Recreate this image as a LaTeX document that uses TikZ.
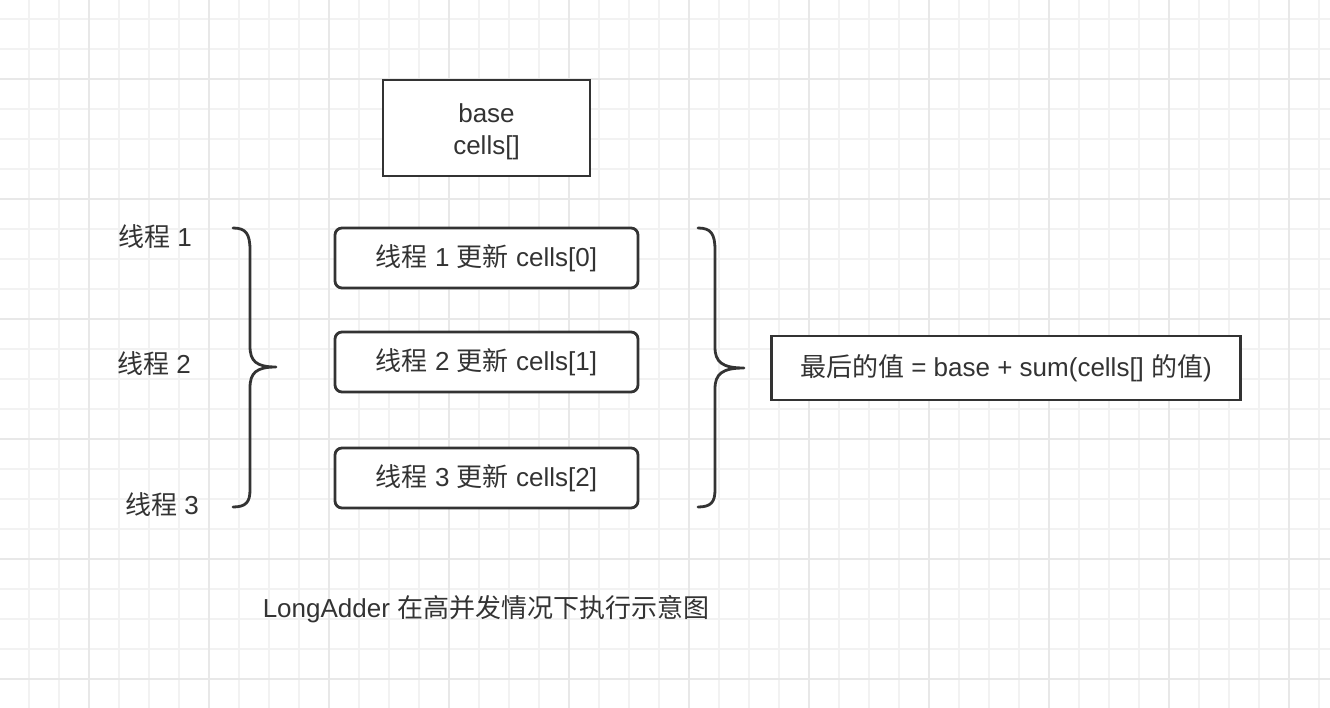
\documentclass[tikz,border=0pt]{standalone}
\usepackage{fontspec}
\setmainfont{Liberation Sans}
\newfontfamily\cjk{Noto Sans CJK SC}
\definecolor{ink}{HTML}{333333}
\definecolor{gridminor}{HTML}{F2F2F2}
\definecolor{gridmajor}{HTML}{E8E8E8}
\begin{document}
\begin{tikzpicture}[x=1pt,y=-1pt,
  txt/.style={text=ink,font=\fontsize{26}{32}\selectfont,inner sep=0pt},
  plainbox/.style={draw=ink,line width=2.8pt,fill=white,txt,align=center},
  threadbox/.style={plainbox,rounded corners=7pt},
  brace/.style={draw=ink,line width=2.8pt,line cap=round,line join=round},
  minorline/.style={draw=gridminor,line width=1.6pt},
  majorline/.style={draw=gridmajor,line width=1.8pt}]
\useasboundingbox (0,0) rectangle (1330,708);
\fill[white] (0,0) rectangle (1330,708);
% background grid
\foreach \x in {-1,29,...,1320} \draw[minorline] (\x,0) -- (\x,708);
\foreach \y in {19,49,...,708} \draw[minorline] (0,\y) -- (1330,\y);
\foreach \x in {89,209,...,1330} \draw[majorline] (\x,0) -- (\x,708);
\foreach \y in {79,199,...,708} \draw[majorline] (0,\y) -- (1330,\y);

% shared state
\node[plainbox,minimum width=207pt,minimum height=96pt] (state) at (486.5,128) {};
\node[txt,align=center] (statetext) at ([yshift=-3.5pt]state.center) {base\\cells[]};

% per-thread updates
\node[threadbox,minimum width=303pt,minimum height=60pt] (t1) at (486.5,258) {{\cjk 线程} 1 {\cjk 更新} cells[0]};
\node[threadbox,minimum width=303pt,minimum height=60pt] (t2) at (486.5,362) {{\cjk 线程} 2 {\cjk 更新} cells[1]};
\node[threadbox,minimum width=303pt,minimum height=60pt] (t3) at (486.5,478) {{\cjk 线程} 3 {\cjk 更新} cells[2]};

% result
\node[plainbox,minimum width=469pt,minimum height=64pt] (sum) at (1006,368) {{\cjk 最后的值} = base + sum(cells[] {\cjk 的值})};

% thread labels
\node[txt] (l1) at (155,237) {{\cjk 线程} 1};
\node[txt] (l2) at (154,364) {{\cjk 线程} 2};
\node[txt] (l3) at (162,505) {{\cjk 线程} 3};

% caption
\node[txt] (cap) at (486,609) {LongAdder {\cjk 在高并发情况下执行示意图}};

% left brace
\coordinate (lbtop) at (233,228);
\coordinate (lbtip) at (276,367);
\coordinate (lbbot) at (233,507);
\draw[brace] (lbtop) .. controls (246,228) and (250,234) .. (250,250)
  -- (250,346) .. controls (250,361) and (256,367) .. (lbtip)
  .. controls (256,367) and (250,373) .. (250,388)
  -- (250,490) .. controls (250,502) and (246,507) .. (lbbot);

% right brace
\coordinate (rbtop) at (698,228);
\coordinate (rbtip) at (744,368);
\coordinate (rbbot) at (698,507);
\draw[brace] (rbtop) .. controls (711,228) and (715,234) .. (715,250)
  -- (715,347) .. controls (715,362) and (722,368) .. (rbtip)
  .. controls (722,368) and (715,374) .. (715,389)
  -- (715,490) .. controls (715,502) and (711,507) .. (rbbot);
\end{tikzpicture}
\end{document}
